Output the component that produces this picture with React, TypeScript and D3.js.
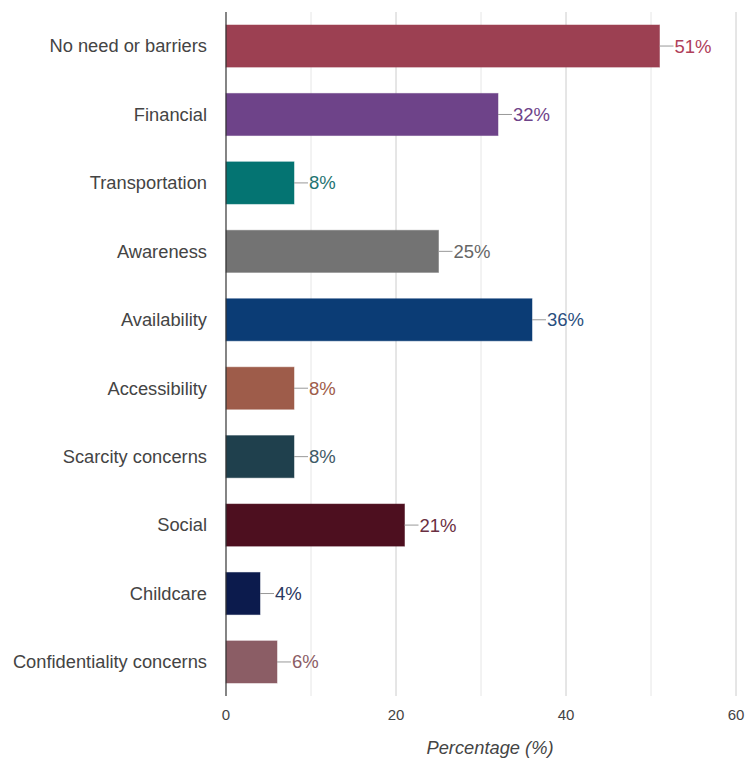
import React from "react";
import * as d3 from "d3";

const categories = [
  "No need or barriers",
  "Financial",
  "Transportation",
  "Awareness",
  "Availability",
  "Accessibility",
  "Scarcity concerns",
  "Social",
  "Childcare",
  "Confidentiality concerns",
];
const values = [51, 32, 8, 25, 36, 8, 8, 21, 4, 6];
const barColors = [
  "#9c4052",
  "#6e4389",
  "#047472",
  "#737373",
  "#0b3c75",
  "#9e5c4a",
  "#1f404d",
  "#4d0f1f",
  "#0c1b4d",
  "#8b5d65",
];
const labelColors = [
  "#b0405a",
  "#6e4389",
  "#1f7472",
  "#666666",
  "#2a4f80",
  "#9e5c4a",
  "#3f5a66",
  "#6a2f42",
  "#2a3860",
  "#8b5d65",
];
const xTicks = [0, 20, 40, 60];
const gridTicks = [10, 20, 30, 40, 50, 60];

const W = 745;
const H = 762;
const left = 226;
const right = 736;
const top = 12;
const bottom = 696;

export default function App() {
  const x = d3.scaleLinear().domain([0, 60]).range([left, right]);
  const y = d3
    .scaleBand<string>()
    .domain(categories)
    .range([top, bottom])
    .paddingInner(0.385)
    .paddingOuter(0.19);
  const font = "Arial, 'Liberation Sans', sans-serif";
  return (
    <svg
      width={W}
      height={H}
      style={{ position: "absolute", left: 0, top: 0, background: "#fff" }}
      fontFamily={font}
    >
      {gridTicks.map((t) => (
        <line
          key={t}
          x1={x(t)}
          x2={x(t)}
          y1={top}
          y2={bottom}
          stroke={t % 20 === 0 ? "#cccccc" : "#e6e6e6"}
          strokeWidth={1}
        />
      ))}
      {categories.map((c, i) => {
        const yy = y(c)!;
        const bw = y.bandwidth();
        const x1 = x(values[i]);
        const cy = yy + bw / 2;
        return (
          <g key={c}>
            <rect
              x={x(0)}
              y={yy}
              width={x1 - x(0)}
              height={bw}
              fill={barColors[i]}
              stroke={barColors[i]}
              strokeOpacity={0.5}
              strokeWidth={1}
            />
            <line x1={x1} x2={x1 + 14} y1={cy} y2={cy} stroke="#999" strokeWidth={1} />
            <text
              x={x1 + 15}
              y={cy}
              dy="0.35em"
              fontSize={18.5}
              fill={labelColors[i]}
            >
              {values[i]}%
            </text>
            <text
              x={207}
              y={cy}
              dy="0.35em"
              textAnchor="end"
              fontSize={18.3}
              fill="#444"
            >
              {c}
            </text>
          </g>
        );
      })}
      <line x1={x(0)} x2={x(0)} y1={top} y2={bottom} stroke="#333" strokeWidth={1.2} />
      {xTicks.map((t) => (
        <text
          key={t}
          x={x(t)}
          y={715}
          dy="0.35em"
          textAnchor="middle"
          fontSize={15}
          fill="#444"
        >
          {t}
        </text>
      ))}
      <text
        x={490}
        y={748}
        dy="0.35em"
        textAnchor="middle"
        fontSize={18.3}
        fontStyle="italic"
        fill="#444"
      >
        Percentage (%)
      </text>
    </svg>
  );
}
